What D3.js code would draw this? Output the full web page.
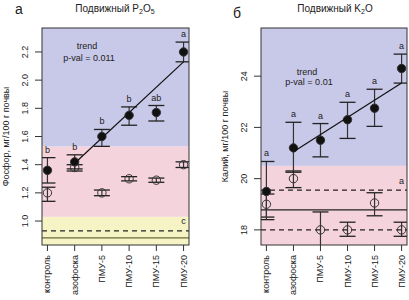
<!DOCTYPE html>
<html>
<head>
<meta charset="utf-8">
<style>
  body { margin: 0; background: #fff; }
  text { font-family: "Liberation Sans", Arial, sans-serif; fill: #222; }
</style>
</head>
<body>
<script src="https://d3js.org/d3.v7.min.js"></script>
<script>
var cats = ["контроль", "азофоска", "ПМУ-5", "ПМУ-10", "ПМУ-15", "ПМУ-20"];

// phosphorus, panel a
var pMean = [1.36, 1.42, 1.60, 1.75, 1.77, 2.20];
var pLo = [1.27, 1.37, 1.53, 1.68, 1.71, 2.13];
var pHi = [1.45, 1.47, 1.65, 1.81, 1.82, 2.27];
var pLetters = ["b", "b", "b", "b", "ab", "a"];
var pOpen = [1.20, 1.38, 1.20, 1.30, 1.29, 1.40];
var pOpenLo = [1.14, 1.355, 1.18, 1.285, 1.275, 1.38];
var pOpenHi = [1.24, 1.40, 1.22, 1.315, 1.305, 1.42];
var pTrend = [[2, 1.41], [6, 2.13]];
var pTicks = [1.0, 1.2, 1.4, 1.6, 1.8, 2.0, 2.2];
var pBands = [1.03, 1.53];
var pDashed = [0.93];
var pSolid = [0.88];

// potassium, panel b
var kMean = [19.5, 21.2, 21.5, 22.3, 22.75, 24.3];
var kLo = [18.4, 20.25, 20.85, 21.57, 22.04, 23.73];
var kHi = [20.67, 22.2, 22.15, 22.98, 23.49, 24.86];
var kLetters = ["a", "a", "a", "a", "a", "a"];
var kOpen = [19.0, 20.0, 18.0, 18.0, 19.05, 18.0];
var kOpenLo = [18.5, 19.65, 17.0, 17.75, 18.55, 17.75];
var kOpenHi = [19.4, 20.3, 18.7, 18.3, 19.45, 18.3];
var kTrend = [[2, 21.05], [6, 23.73]];
var kTicks = [18, 20, 22, 24];
var kBands = [20.5];
var kDashed = [19.55, 18.0];
var kSolid = [18.78];

var W = 409, H = 300;
var svg = d3.select("body").append("svg").attr("width", W).attr("height", H);

function drawPanel(o) {
  var x = d3.scaleLinear().domain([0.8, 6.2]).range([o.left, o.right]);
  var y = d3.scaleLinear().domain(o.ydom).range([o.bottom, o.top]);
  var g = svg.append("g");
  var clipId = "clip" + o.id;
  g.append("clipPath").attr("id", clipId).append("rect")
    .attr("x", o.left).attr("y", o.top)
    .attr("width", o.right - o.left).attr("height", o.bottom - o.top);
  var inner = g.append("g").attr("clip-path", "url(#" + clipId + ")");

  // background bands
  var edges = [o.ydom[0]].concat(o.bands).concat([o.ydom[1]]);
  for (var i = 0; i < edges.length - 1; i++) {
    inner.append("rect")
      .attr("x", o.left).attr("width", o.right - o.left)
      .attr("y", y(edges[i + 1])).attr("height", y(edges[i]) - y(edges[i + 1]))
      .attr("fill", o.bandColors[i]);
  }

  o.dashed.forEach(function (v) {
    inner.append("line").attr("x1", o.left).attr("x2", o.right)
      .attr("y1", y(v)).attr("y2", y(v))
      .attr("stroke", "#222").attr("stroke-width", 1.3).attr("stroke-dasharray", "5,4");
  });
  o.solid.forEach(function (v) {
    inner.append("line").attr("x1", o.left).attr("x2", o.right)
      .attr("y1", y(v)).attr("y2", y(v))
      .attr("stroke", o.solidColor).attr("stroke-width", 1.3);
  });

  function bars(mean, lo, hi, filled) {
    var cap = 8;
    mean.forEach(function (m, i) {
      var cx = x(i + 1);
      inner.append("line").attr("x1", cx).attr("x2", cx)
        .attr("y1", y(lo[i])).attr("y2", y(hi[i]))
        .attr("stroke", "#333").attr("stroke-width", 1.2);
      [lo[i], hi[i]].forEach(function (v) {
        inner.append("line").attr("x1", cx - cap).attr("x2", cx + cap)
          .attr("y1", y(v)).attr("y2", y(v))
          .attr("stroke", "#222").attr("stroke-width", 1.3);
      });
      inner.append("circle").attr("cx", cx).attr("cy", y(m)).attr("r", 4.2)
        .attr("fill", filled ? "#111" : "none")
        .attr("stroke", "#333").attr("stroke-width", 1);
    });
  }
  bars(o.open, o.openLo, o.openHi, false);
  bars(o.mean, o.lo, o.hi, true);

  inner.append("line")
    .attr("x1", x(o.trend[0][0])).attr("y1", y(o.trend[0][1]))
    .attr("x2", x(o.trend[1][0])).attr("y2", y(o.trend[1][1]))
    .attr("stroke", "#111").attr("stroke-width", 1.2);

  o.letters.forEach(function (t, i) {
    g.append("text").attr("x", x(i + 1)).attr("y", y(o.hi[i]) - 5)
      .attr("text-anchor", "middle").attr("font-size", 9).text(t);
  });
  g.append("text").attr("x", x(6)).attr("y", y(o.openLetter[1]) + 3)
    .attr("text-anchor", "middle").attr("font-size", 9).text(o.openLetter[0]);

  g.append("text").attr("x", o.left + o.trendPos[0]).attr("y", o.trendPos[1])
    .attr("text-anchor", "middle").attr("font-size", 9).text("trend");
  g.append("text").attr("x", o.left + o.trendPos[0] + 2).attr("y", o.trendPos[1] + o.trendGap)
    .attr("text-anchor", "middle").attr("font-size", 9).text("p-val = " + o.pval);

  // frame
  g.append("rect").attr("x", o.left).attr("y", o.top)
    .attr("width", o.right - o.left).attr("height", o.bottom - o.top)
    .attr("fill", "none").attr("stroke", "#333").attr("stroke-width", 1);

  // y axis
  o.ticks.forEach(function (t) {
    g.append("line").attr("x1", o.left - 7).attr("x2", o.left)
      .attr("y1", y(t)).attr("y2", y(t)).attr("stroke", "#333");
    g.append("text")
      .attr("transform", "translate(" + (o.left - 14) + "," + y(t) + ") rotate(-90)")
      .attr("text-anchor", "middle").attr("font-size", 9).text(o.tickFmt(t));
  });
  g.append("text")
    .attr("transform", "translate(" + o.ylabX + "," + ((o.top + o.bottom) / 2) + ") rotate(-90)")
    .attr("text-anchor", "middle").attr("font-size", 9).text(o.ylab);

  // x axis
  cats.forEach(function (c, i) {
    var cx = x(i + 1);
    g.append("line").attr("x1", cx).attr("x2", cx)
      .attr("y1", o.bottom).attr("y2", o.bottom + 6).attr("stroke", "#333");
    g.append("text")
      .attr("transform", "translate(" + (cx + 3) + "," + (o.bottom + 10) + ") rotate(-90)")
      .attr("text-anchor", "end").attr("font-size", 9).text(c);
  });

  // titles
  var title = g.append("text").attr("x", o.titleX).attr("y", 12)
    .attr("text-anchor", "middle").attr("font-size", 10);
  o.title.forEach(function (p) {
    title.append("tspan").attr("font-size", p[1] ? 7 : 10)
      .attr("dy", p[1] ? 2 : (p[2] ? -2 : 0)).text(p[0]);
  });
  g.append("text").attr("x", o.letterPos[0]).attr("y", o.letterPos[1])
    .attr("text-anchor", "middle").attr("font-size", 14).text(o.panelLetter);
}

drawPanel({
  id: "a", left: 42, right: 189, top: 28, bottom: 245,
  ydom: [0.83, 2.37],
  bands: pBands, bandColors: ["#f6f4c4", "#f4d3dc", "#c8c8e8"],
  dashed: pDashed, solid: pSolid, solidColor: "#6b6b3a",
  mean: pMean, lo: pLo, hi: pHi, letters: pLetters,
  open: pOpen, openLo: pOpenLo, openHi: pOpenHi, openLetter: ["c", 1.0],
  trend: pTrend, trendPos: [45, 49], trendGap: 12, pval: "0.011",
  ticks: pTicks, tickFmt: d3.format(".1f"),
  ylab: "Фосфор, мг/100 г почвы", ylabX: 9,
  title: [["Подвижный P"], ["2", true], ["O", false, true], ["5", true]],
  titleX: 115, panelLetter: "а", letterPos: [19, 14]
});

drawPanel({
  id: "b", left: 261, right: 407, top: 28, bottom: 245,
  ydom: [17.41, 25.88],
  bands: kBands, bandColors: ["#f4d3dc", "#c8c8e8"],
  dashed: kDashed, solid: kSolid, solidColor: "#222",
  mean: kMean, lo: kLo, hi: kHi, letters: kLetters,
  open: kOpen, openLo: kOpenLo, openHi: kOpenHi, openLetter: ["a", 19.9],
  trend: kTrend, trendPos: [46, 75], trendGap: 10, pval: "0.01",
  ticks: kTicks, tickFmt: d3.format("d"),
  ylab: "Калий, мг/100 г почвы", ylabX: 228,
  title: [["Подвижный K"], ["2", true], ["O", false, true]],
  titleX: 335, panelLetter: "б", letterPos: [237, 18]
});
</script>
</body>
</html>
